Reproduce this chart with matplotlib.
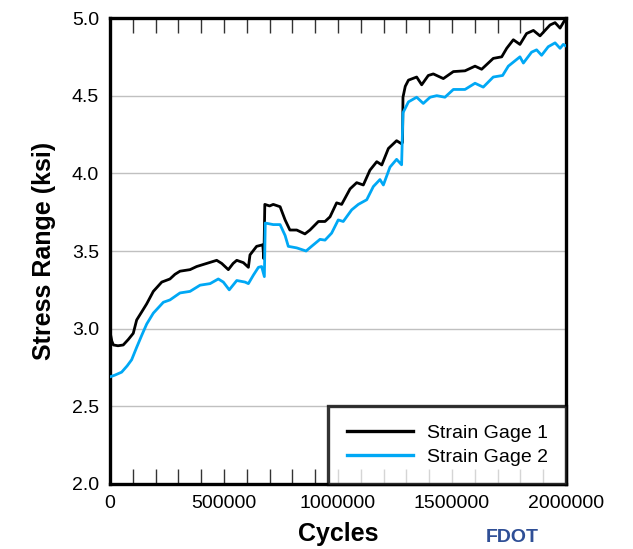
import matplotlib.pyplot as plt
from matplotlib.ticker import MultipleLocator

plt.rcParams['font.family'] = ['Liberation Sans', 'DejaVu Sans']

# Strain gage 1 (cycles, stress range in ksi)
sg1_cycles = [0, 8e3, 15e3, 35e3, 58e3, 80e3, 102e3, 117e3, 140e3, 161e3,
              190e3, 227e3, 263e3, 285e3, 307e3, 351e3, 380e3, 424e3, 468e3, 490e3,
              519e3, 540e3, 556e3, 585e3, 607e3, 614e3, 643e3, 670e3, 675e3, 679e3,
              700e3, 716e3, 746e3, 768e3, 789e3, 819e3, 855e3, 877e3, 914e3, 943e3,
              965e3, 994e3, 1016e3, 1053e3, 1082e3, 1111e3, 1140e3, 1170e3, 1192e3, 1221e3,
              1257e3, 1279e3, 1283e3, 1285e3, 1295e3, 1309e3, 1345e3, 1367e3, 1396e3, 1418e3,
              1462e3, 1506e3, 1557e3, 1601e3, 1630e3, 1681e3, 1718e3, 1740e3, 1769e3, 1798e3,
              1827e3, 1857e3, 1886e3, 1930e3, 1952e3, 1974e3, 1996e3, 2000e3]
sg1_stress = [2.98, 2.92, 2.895, 2.89, 2.895, 2.93, 2.97, 3.056, 3.11, 3.16,
              3.24, 3.30, 3.32, 3.35, 3.37, 3.38, 3.40, 3.42, 3.44, 3.42,
              3.38, 3.42, 3.44, 3.425, 3.395, 3.475, 3.53, 3.54, 3.45, 3.80,
              3.79, 3.80, 3.785, 3.70, 3.635, 3.635, 3.61, 3.635, 3.69, 3.69,
              3.72, 3.81, 3.80, 3.90, 3.94, 3.925, 4.02, 4.075, 4.054, 4.16,
              4.21, 4.19, 4.20, 4.49, 4.56, 4.60, 4.62, 4.57, 4.63, 4.64,
              4.61, 4.655, 4.66, 4.69, 4.67, 4.74, 4.75, 4.805, 4.86, 4.83,
              4.90, 4.92, 4.885, 4.955, 4.97, 4.935, 4.99, 4.98]

# Strain gage 2
sg2_cycles = [0, 20e3, 51e3, 75e3, 95e3, 117e3, 140e3, 161e3, 190e3, 234e3,
              263e3, 307e3, 351e3, 395e3, 439e3, 475e3, 497e3, 523e3, 556e3, 592e3,
              607e3, 629e3, 651e3, 665e3, 677e3, 681e3, 716e3, 746e3, 768e3, 782e3,
              819e3, 860e3, 884e3, 921e3, 943e3, 972e3, 1001e3, 1023e3, 1060e3, 1089e3,
              1126e3, 1155e3, 1184e3, 1199e3, 1228e3, 1257e3, 1279e3, 1285e3, 1309e3, 1345e3,
              1374e3, 1404e3, 1433e3, 1469e3, 1506e3, 1557e3, 1601e3, 1637e3, 1681e3, 1722e3,
              1747e3, 1798e3, 1813e3, 1849e3, 1871e3, 1893e3, 1922e3, 1952e3, 1974e3, 1988e3,
              2000e3]
sg2_stress = [2.69, 2.70, 2.72, 2.76, 2.80, 2.88, 2.96, 3.03, 3.10, 3.17,
              3.185, 3.23, 3.24, 3.28, 3.29, 3.32, 3.30, 3.25, 3.31, 3.30,
              3.29, 3.345, 3.395, 3.40, 3.335, 3.68, 3.67, 3.67, 3.60, 3.53,
              3.52, 3.50, 3.53, 3.575, 3.57, 3.615, 3.70, 3.69, 3.765, 3.80,
              3.83, 3.915, 3.96, 3.925, 4.04, 4.09, 4.055, 4.39, 4.46, 4.49,
              4.45, 4.49, 4.50, 4.49, 4.54, 4.54, 4.58, 4.555, 4.62, 4.63,
              4.69, 4.75, 4.71, 4.78, 4.795, 4.76, 4.815, 4.84, 4.805, 4.83,
              4.82]

labels = ['Strain Gage 1', 'Strain Gage 2']

fig = plt.figure(figsize=(6.33, 5.49), dpi=100)
ax = fig.add_axes([110/633, 65/549, 456/633, 466/549])

ax.plot(sg1_cycles, sg1_stress, color='black', linewidth=2.0, label=labels[0], zorder=3)
ax.plot(sg2_cycles, sg2_stress, color='#00a8f5', linewidth=2.0, label=labels[1], zorder=3)

ax.set_xlim(0, 2000000)
ax.set_ylim(2.0, 5.0)
ax.xaxis.set_major_locator(MultipleLocator(500000))
ax.xaxis.set_minor_locator(MultipleLocator(100000))
ax.yaxis.set_major_locator(MultipleLocator(0.5))
ax.xaxis.set_major_formatter(plt.FuncFormatter(lambda v, p: f'{int(v)}'))
ax.yaxis.set_major_formatter(plt.FuncFormatter(lambda v, p: f'{v:.1f}'))

ax.grid(axis='y', color='#c0c0c0', linewidth=1.0, zorder=0)
ax.set_axisbelow(True)

# inward ticks on top and bottom only
ax.tick_params(axis='x', which='both', direction='in', top=True, bottom=True,
               length=11, width=1.0, color='#333333', labelsize=14, pad=8)
ax.tick_params(axis='y', which='both', length=0, labelsize=14, pad=8)

for s in ax.spines.values():
    s.set_linewidth(2.4)

ax.set_xlabel('Cycles', fontsize=18, fontweight='bold', labelpad=7)
ax.set_ylabel('Stress Range (ksi)', fontsize=18, fontweight='bold', labelpad=11)

leg = ax.legend(loc='lower right', borderaxespad=0, fontsize=14, frameon=True,
                fancybox=False, edgecolor='black', handlelength=3.4,
                handletextpad=0.7, labelspacing=0.3, borderpad=0.95)
leg.get_frame().set_linewidth(2.4)
for h in leg.get_lines():
    h.set_linewidth(2.4)

fig.text(512/633, 1 - 538/549, 'FDOT', color='#2f4f96', fontsize=14,
         fontweight='bold', ha='center', va='center')

fig.savefig('out.png', dpi=100)
